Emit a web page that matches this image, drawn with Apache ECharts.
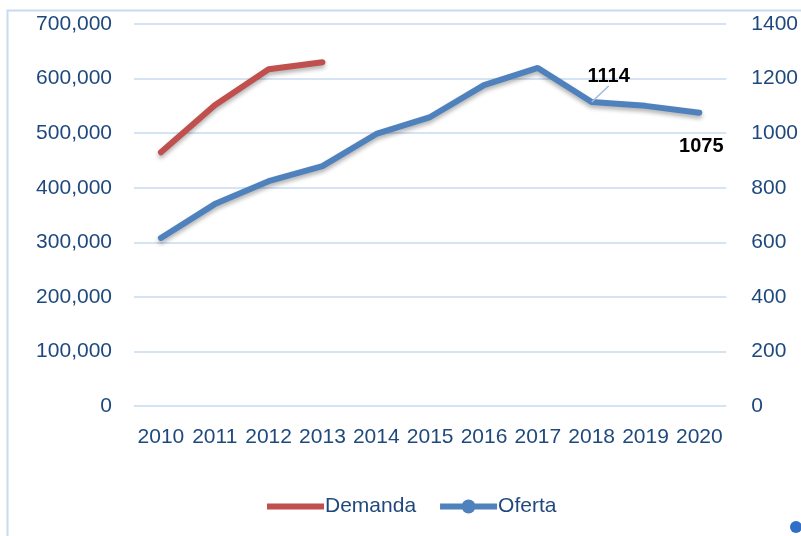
<!DOCTYPE html>
<html>
<head>
<meta charset="utf-8">
<script src="https://cdn.jsdelivr.net/npm/echarts@6/dist/echarts.min.js"></script>
<style>
  html, body { margin: 0; padding: 0; background: #fff; }
  #chart { width: 801px; height: 536px; }
</style>
</head>
<body>
<div id="chart"></div>
<script>
const years = ['2010', '2011', '2012', '2013', '2014', '2015', '2016', '2017', '2018', '2019', '2020']
const demanda = [465000, 551000, 617000, 630000]
const oferta = [616, 740, 824, 879, 997, 1059, 1176, 1239, 1114, 1100, 1075]

const TEXT = '#1f497d'
const GRID = '#d6e3f3'
const FONT = 'Liberation Sans'

const lineShadow = {
  shadowBlur: 4,
  shadowColor: 'rgba(0,0,0,0.3)',
  shadowOffsetY: 3
}

// legend icons: thick line, and thick line with a dot for Oferta
const ICON_LINE = 'path://M0,4 h57 v6 h-57 z M0,0 h0.01 v14 h-0.01 z'
const ICON_DOT = 'path://M0,4 h57 v6 h-57 z M21.5,7 a7,7 0 1,1 14,0 a7,7 0 1,1 -14,0 z'

const ofertaData = oferta.map((v, i) => {
  if (i === 8) {
    return {
      value: v,
      label: { show: true, position: 'inside', offset: [17, -26] },
      labelLine: { show: true, lineStyle: { color: '#9dbbe0', width: 1.5 } }
    }
  }
  if (i === 10) {
    return { value: v, label: { show: true, position: 'inside', offset: [2, 34] } }
  }
  return v
})

const option = {
  animation: false,
  textStyle: { fontFamily: FONT },
  grid: { left: 134, right: 71, top: 24, bottom: 130 },
  legend: {
    bottom: 14,
    left: 262,
    itemWidth: 57,
    itemHeight: 14,
    itemGap: 24,
    textStyle: { color: TEXT, fontSize: 21, fontFamily: FONT, padding: [5, 0, 0, -4] },
    data: [
      { name: 'Demanda', icon: ICON_LINE },
      { name: 'Oferta', icon: ICON_DOT }
    ]
  },
  xAxis: {
    type: 'category',
    data: years,
    axisLine: { show: false },
    axisTick: { show: false },
    axisLabel: { color: TEXT, fontSize: 21, margin: 21, interval: 0 }
  },
  yAxis: [
    {
      type: 'value',
      min: 0,
      max: 700000,
      interval: 100000,
      axisLine: { show: false },
      axisTick: { show: false },
      splitLine: { lineStyle: { color: GRID, width: 2 } },
      axisLabel: {
        color: TEXT,
        fontSize: 21,
        margin: 22,
        formatter: v => v.toLocaleString('en-US')
      }
    },
    {
      type: 'value',
      min: 0,
      max: 1400,
      interval: 200,
      axisLine: { show: false },
      axisTick: { show: false },
      splitLine: { show: false },
      axisLabel: { color: TEXT, fontSize: 21, margin: 25, formatter: v => String(v) }
    }
  ],
  series: [
    {
      name: 'Demanda',
      type: 'line',
      yAxisIndex: 0,
      data: demanda,
      symbol: 'none',
      color: '#c0504d',
      lineStyle: Object.assign({ width: 6, color: '#c0504d', cap: 'round' }, lineShadow)
    },
    {
      name: 'Oferta',
      type: 'line',
      yAxisIndex: 1,
      data: ofertaData,
      symbol: 'circle',
      symbolSize: 0.1,
      color: '#4f81bd',
      itemStyle: { color: '#4f81bd' },
      lineStyle: Object.assign({ width: 6, color: '#4f81bd', cap: 'round' }, lineShadow),
      label: {
        show: false,
        color: '#000',
        fontWeight: 'bold',
        fontSize: 20,
        fontFamily: FONT
      }
    }
  ],
  graphic: [
    {
      type: 'rect',
      left: 5,
      top: 8,
      shape: { width: 900, height: 700 },
      style: { fill: 'none', stroke: '#c9dbf0', lineWidth: 2 },
      silent: true
    },
    {
      type: 'circle',
      left: 790,
      top: 521,
      shape: { r: 6 },
      style: { fill: '#2f6fc6' },
      silent: true
    }
  ]
}

const chart = echarts.init(document.getElementById('chart'))
chart.setOption(option)
</script>
</body>
</html>
